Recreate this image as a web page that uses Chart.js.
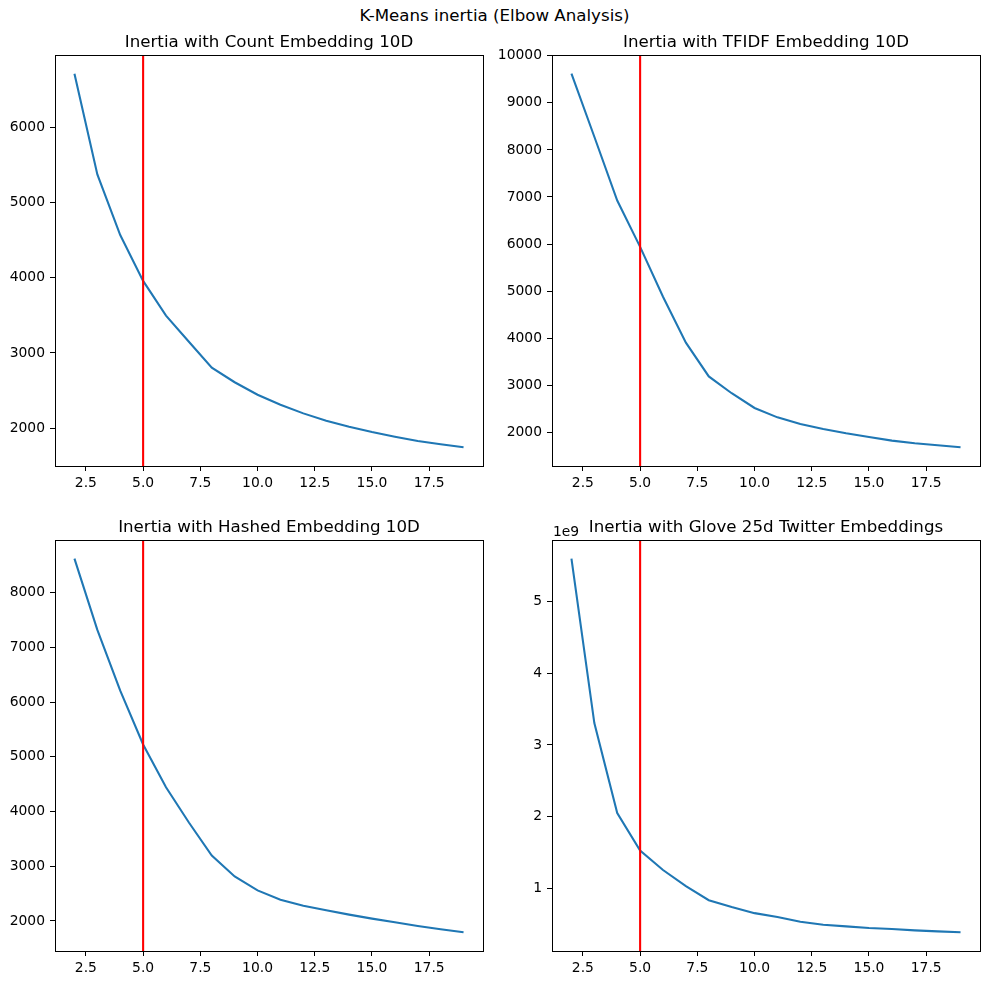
<!DOCTYPE html>
<html>
<head>
<meta charset="utf-8">
<script src="https://cdn.jsdelivr.net/npm/chart.js@4.4.0/dist/chart.umd.min.js"></script>
<style>
  body { margin: 0; background: #fff; overflow: hidden; }
  #wrap { position: relative; width: 989px; height: 985px; }
  #suptitle { position: absolute; left: 0; top: 6px; width: 989px; text-align: center;
              font-family: "DejaVu Sans"; font-size: 16.67px; line-height: 20px; color: #000; }
  canvas { position: absolute; }
</style>
</head>
<body>
<div id="wrap">
  <div id="suptitle">K-Means inertia (Elbow Analysis)</div>
  <canvas id="count" width="495" height="500" style="left:0;top:0"></canvas>
  <canvas id="tfidf" width="494" height="500" style="left:495px;top:0"></canvas>
  <canvas id="hashed" width="495" height="485" style="left:0;top:500px"></canvas>
  <canvas id="glove" width="494" height="485" style="left:495px;top:500px"></canvas>
</div>
<script>
// number of clusters tried
const ks = [2, 3, 4, 5, 6, 7, 8, 9, 10, 11, 12, 13, 14, 15, 16, 17, 18, 19];
const elbowK = 5;

const countInertia = [6720, 5378, 4570, 3960, 3498, 3150, 2805, 2610, 2443, 2310, 2195, 2098, 2018, 1947, 1885, 1827, 1783, 1743];
const tfidfInertia = [9620, 8280, 6925, 5940, 4880, 3905, 3188, 2830, 2517, 2318, 2177, 2071, 1979, 1901, 1823, 1766, 1724, 1681];
const hashedInertia = [8622, 7320, 6210, 5226, 4445, 3800, 3195, 2815, 2560, 2390, 2280, 2195, 2116, 2043, 1976, 1909, 1848, 1793];
const gloveInertia = [5.593e9, 3.305e9, 2.054e9, 1.532e9, 1.26e9, 1.035e9, 0.84e9, 0.745e9, 0.66e9, 0.606e9, 0.541e9, 0.499e9, 0.476e9, 0.453e9, 0.439e9, 0.42e9, 0.406e9, 0.393e9];

const xTicks = [2.5, 5, 7.5, 10, 12.5, 15, 17.5];
const countTicks = [2000, 3000, 4000, 5000, 6000];
const tfidfTicks = [2000, 3000, 4000, 5000, 6000, 7000, 8000, 9000, 10000];
const hashedTicks = [2000, 3000, 4000, 5000, 6000, 7000, 8000];
const gloveTicks = [1e9, 2e9, 3e9, 4e9, 5e9];

const FONT = 'DejaVu Sans';

// matplotlib style autoscale: 5% margin each side
function limits(arr) {
  const lo = Math.min(...arr), hi = Math.max(...arr);
  const m = (hi - lo) * 0.05;
  return [lo - m, hi + m];
}

// box around the axes + title + optional offset text
const axesDecor = {
  id: 'axesDecor',
  afterDraw(chart, args, opts) {
    const { ctx, chartArea } = chart;
    ctx.save();
    ctx.strokeStyle = '#000';
    ctx.lineWidth = 1;
    ctx.strokeRect(Math.round(chartArea.left) + 0.5, Math.round(chartArea.top) + 0.5,
      Math.round(chartArea.right - chartArea.left), Math.round(chartArea.bottom - chartArea.top));
    ctx.fillStyle = '#000';
    ctx.font = '16.67px "' + FONT + '"';
    ctx.textAlign = 'center';
    ctx.textBaseline = 'alphabetic';
    ctx.fillText(opts.title, (chartArea.left + chartArea.right) / 2, chartArea.top - 8);
    if (opts.offsetText) {
      ctx.font = '13.89px "' + FONT + '"';
      ctx.textAlign = 'left';
      ctx.fillText(opts.offsetText, chartArea.left + 1, chartArea.top - 4);
    }
    ctx.restore();
  }
};

function makeChart(id, title, values, yTicks, yWidth, padRight, padTop, yFormat, offsetText) {
  const [lo, hi] = limits(values);
  const [xlo, xhi] = limits(ks);
  new Chart(document.getElementById(id), {
    type: 'scatter',
    data: {
      datasets: [
        {
          data: [{ x: elbowK, y: lo }, { x: elbowK, y: hi }],
          showLine: true,
          borderColor: '#ff0000',
          borderWidth: 2.08,
          pointRadius: 0
        },
        {
          data: ks.map((k, i) => ({ x: k, y: values[i] })),
          showLine: true,
          borderColor: '#1f77b4',
          borderWidth: 2.08,
          pointRadius: 0,
          tension: 0
        }
      ]
    },
    options: {
      responsive: false,
      animation: false,
      events: [],
      layout: { padding: { top: padTop, right: padRight, left: 0, bottom: 0 } },
      plugins: {
        legend: { display: false },
        tooltip: { enabled: false },
        axesDecor: { title: title, offsetText: offsetText }
      },
      scales: {
        x: {
          type: 'linear',
          min: xlo,
          max: xhi,
          afterBuildTicks: (s) => { s.ticks = xTicks.map(v => ({ value: v })); },
          afterFit: (s) => { s.height = 34; },
          border: { display: false },
          grid: { display: true, drawOnChartArea: false, drawTicks: true, tickLength: 5, color: '#000', lineWidth: 1 },
          ticks: {
            autoSkip: false, maxRotation: 0, padding: 4, color: '#000',
            font: { family: FONT, size: 13.89 },
            callback: (v) => v.toFixed(1)
          }
        },
        y: {
          type: 'linear',
          min: lo,
          max: hi,
          afterBuildTicks: (s) => { s.ticks = yTicks.map(v => ({ value: v })); },
          afterFit: (s) => { s.width = yWidth; },
          border: { display: false },
          grid: { display: true, drawOnChartArea: false, drawTicks: true, tickLength: 5, color: '#000', lineWidth: 1 },
          ticks: {
            autoSkip: false, padding: 5, color: '#000',
            font: { family: FONT, size: 13.89 },
            callback: yFormat
          }
        }
      }
    },
    plugins: [axesDecor]
  });
}

const plain = (v) => String(v);
makeChart('count', 'Inertia with Count Embedding 10D', countInertia, countTicks, 55, 12, 55, plain);
makeChart('tfidf', 'Inertia with TFIDF Embedding 10D', tfidfInertia, tfidfTicks, 57, 9, 55, plain);
makeChart('hashed', 'Inertia with Hashed Embedding 10D', hashedInertia, hashedTicks, 55, 12, 40, plain);
makeChart('glove', 'Inertia with Glove 25d Twitter Embeddings', gloveInertia, gloveTicks, 57, 9, 40,
  (v) => String(Math.round(v / 1e9)), '1e9');
</script>
</body>
</html>
